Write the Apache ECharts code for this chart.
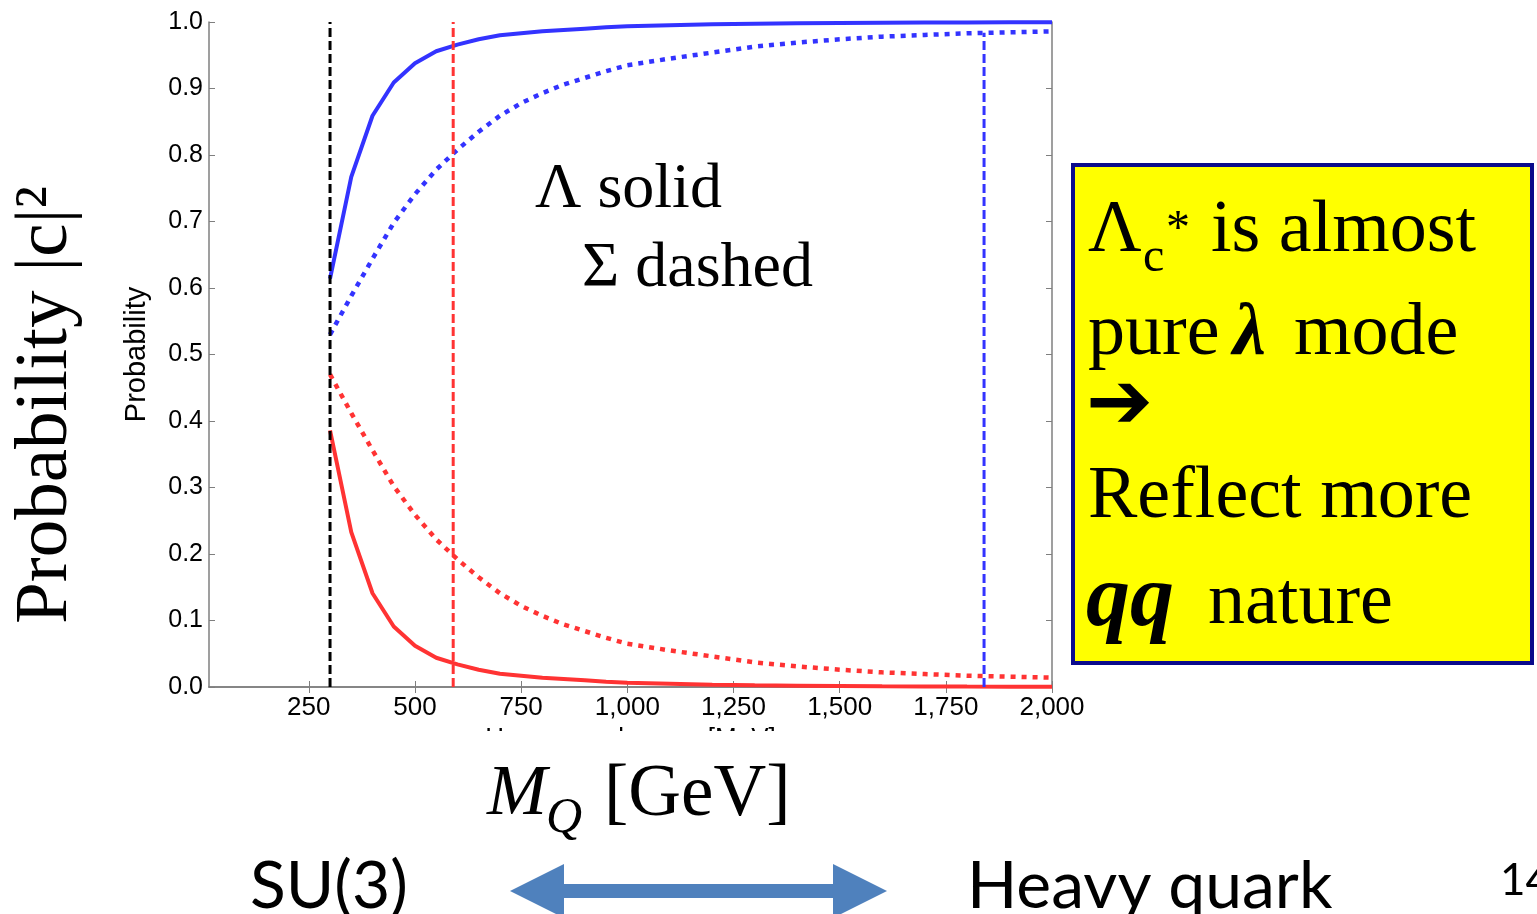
<!DOCTYPE html>
<html>
<head>
<meta charset="utf-8">
<title>Probability vs heavy quark mass</title>
<script src="https://cdn.jsdelivr.net/npm/echarts@6/dist/echarts.min.js"></script>
<style>
  html, body { margin: 0; padding: 0; background: #ffffff; }
  #chart { width: 1537px; height: 914px; }
</style>
</head>
<body>
<div id="chart"></div>
<script>
// Heavy quark mass grid [MeV]
const massMeV = [300, 350, 400, 450, 500, 550, 600, 650, 700, 750, 800, 850, 900, 950,
  1000, 1100, 1200, 1300, 1400, 1500, 1600, 1700, 1800, 1900, 2000];

// Lambda_c* : solid curves
const lambdaBlue = [0.614, 0.767, 0.859, 0.909, 0.938, 0.956, 0.966, 0.974, 0.980, 0.983,
  0.986, 0.988, 0.990, 0.992, 0.9935, 0.995, 0.9965, 0.9975, 0.998, 0.9985, 0.999, 0.9992,
  0.9994, 0.9995, 0.9996];
const lambdaRed = [0.386, 0.233, 0.141, 0.091, 0.062, 0.044, 0.034, 0.026, 0.020, 0.017,
  0.014, 0.012, 0.010, 0.008, 0.0065, 0.005, 0.0035, 0.0025, 0.002, 0.0015, 0.001, 0.0008,
  0.0006, 0.0005, 0.0004];

// Sigma_c* : dotted curves
const sigmaBlue = [0.530, 0.588, 0.644, 0.698, 0.741, 0.778, 0.808, 0.835, 0.859, 0.878,
  0.893, 0.906, 0.916, 0.926, 0.935, 0.945, 0.954, 0.963, 0.969, 0.974, 0.978, 0.9805,
  0.983, 0.9845, 0.986];
const sigmaRed = [0.470, 0.412, 0.356, 0.302, 0.259, 0.222, 0.192, 0.165, 0.141, 0.122,
  0.107, 0.094, 0.084, 0.074, 0.065, 0.055, 0.046, 0.037, 0.031, 0.026, 0.022, 0.0195,
  0.017, 0.0155, 0.014];

// Vertical reference masses and how high each marker reaches
const markerMass = [300, 590, 1840];
const markerTop = [1.0, 1.0, 0.984];

// Axis tick values
const xTicks = [250, 500, 750, 1000, 1250, 1500, 1750, 2000];
const yMin = 0, yMax = 1, yStep = 0.1;

const BLUE = '#3333ff';
const RED = '#ff3333';
const AXIS = '#7f7f7f';

const pairs = (xs, ys) => xs.map((x, i) => [x, ys[i]]);

const chart = echarts.init(document.getElementById('chart'), null, { renderer: 'canvas' });

const baseX = {
  type: 'value', min: 15, max: 2000,
  axisLine: { show: true, lineStyle: { color: AXIS, width: 1.5 } },
  axisTick: { show: true, inside: true, length: 6, customValues: xTicks, lineStyle: { color: AXIS, width: 1 } },
  splitLine: { show: false }
};
const baseY = {
  type: 'value', min: yMin, max: yMax, interval: yStep,
  axisLine: { show: true, lineStyle: { color: AXIS, width: 1.5 } },
  axisTick: { show: true, inside: true, length: 6, lineStyle: { color: AXIS, width: 1 } },
  splitLine: { show: false }
};

const curve = (name, ys, color, dotted) => ({
  name, type: 'line', data: pairs(massMeV, ys), showSymbol: false, symbol: 'none',
  smooth: false, z: 3,
  lineStyle: { color, width: dotted ? 4.5 : 4, type: dotted ? [5, 6] : 'solid', cap: 'butt' }
});

const markerColors = ['#000000', RED, BLUE];
const markers = markerMass.map((m, i) => ({
  type: 'line', data: [[m, 0], [m, markerTop[i]]], showSymbol: false, symbol: 'none', z: 4,
  lineStyle: { color: markerColors[i], width: 3, type: [9, 4] }
}));

const serif = 'Liberation Serif, Times New Roman, serif';
const sans = 'Lato, Open Sans, sans-serif';

// plain text placed by its top edge
const txt = (text, x, y, font, z) => ({
  type: 'text', z: z || 100, x, y,
  style: { text, font, fill: '#000', align: 'left', verticalAlign: 'top' }
});

chart.setOption({
  animation: false,
  backgroundColor: '#ffffff',
  grid: { left: 209, top: 22, width: 843, height: 665, containLabel: false },
  xAxis: [
    Object.assign({}, baseX, {
      position: 'bottom',
      name: 'Heavy quark mass [MeV]', nameLocation: 'middle', nameGap: 38,
      nameTextStyle: { fontFamily: 'Liberation Sans, Arial', fontSize: 26, color: '#000' },
      axisLabel: {
        show: true, customValues: xTicks, margin: 8,
        fontFamily: 'Liberation Sans, Arial', fontSize: 26, color: '#000',
        formatter: v => Number(v).toLocaleString('en-US')
      }
    }),
    Object.assign({}, baseX, { position: 'top', axisLabel: { show: false } })
  ],
  yAxis: [
    Object.assign({}, baseY, {
      position: 'left',
      name: 'Probability', nameLocation: 'middle', nameGap: 58, nameRotate: 90,
      nameTextStyle: { fontFamily: 'Liberation Sans, Arial', fontSize: 29, color: '#000' },
      axisLabel: {
        show: true, margin: 6, fontFamily: 'Liberation Sans, Arial', fontSize: 25, color: '#000',
        formatter: v => Number(v).toFixed(1)
      }
    }),
    Object.assign({}, baseY, { position: 'right', axisLabel: { show: false } })
  ],
  series: [
    curve('Λ blue', lambdaBlue, BLUE, false),
    curve('Λ red', lambdaRed, RED, false),
    curve('Σ blue', sigmaBlue, BLUE, true),
    curve('Σ red', sigmaRed, RED, true)
  ].concat(markers),
  graphic: [
    // band hiding the lower part of the axis title
    { type: 'rect', z: 100, shape: { x: 420, y: 731, width: 440, height: 26 }, style: { fill: '#ffffff' } },

    // big rotated axis title on the left
    { type: 'text', z: 100, x: 46, y: 405, rotation: Math.PI / 2,
      style: { text: 'Probability |c|²', font: '75px ' + serif, fill: '#000', align: 'center', verticalAlign: 'middle' } },

    // curve style key
    txt('Λ solid', 535, 158, '64px ' + serif),
    txt('Σ dashed', 582, 237, '64px ' + serif),

    // M_Q [GeV]
    txt('M', 487, 759, 'italic 72px ' + serif),
    txt('Q', 546, 794, 'italic 50px ' + serif),
    txt('[GeV]', 604, 759, '73px ' + serif),

    // SU(3) <-> Heavy quark
    txt('SU(3)', 250, 854, '66px ' + sans),
    txt('Heavy quark', 967, 854, '66px ' + sans),
    { type: 'polygon', z: 100,
      shape: { points: [[510, 891], [564, 864], [564, 884], [833, 884], [833, 864], [887, 891],
        [833, 918], [833, 898], [564, 898], [564, 918]] },
      style: { fill: '#4f81bd' } },
    txt('14', 1500, 859, '44px ' + sans),

    // yellow note box
    { type: 'rect', z: 100, shape: { x: 1073, y: 165, width: 459, height: 498 },
      style: { fill: '#ffff00', stroke: '#0a0a8c', lineWidth: 4 } },
    txt('Λ', 1088, 195, '74px ' + serif, 101),
    txt('c', 1143, 234, '48px ' + serif, 101),
    txt('*', 1166, 206, '48px ' + serif, 101),
    txt('is almost', 1211, 195, '74px ' + serif, 101),
    txt('pure', 1088, 298, '74px ' + serif, 101),
    txt('λ', 1233, 298, 'italic bold 74px ' + serif, 101),
    txt('mode', 1294, 298, '74px ' + serif, 101),
    { type: 'text', z: 101, x: 1086, y: 407,
      style: { text: '➔', font: '80px DejaVu Sans', fill: '#000', align: 'left', verticalAlign: 'middle' } },
    txt('Reflect more', 1088, 461, '74px ' + serif, 101),
    txt('qq', 1086, 558, 'italic bold 88px ' + serif, 101),
    txt('nature', 1208, 567, '74px ' + serif, 101)
  ]
});
</script>
</body>
</html>
